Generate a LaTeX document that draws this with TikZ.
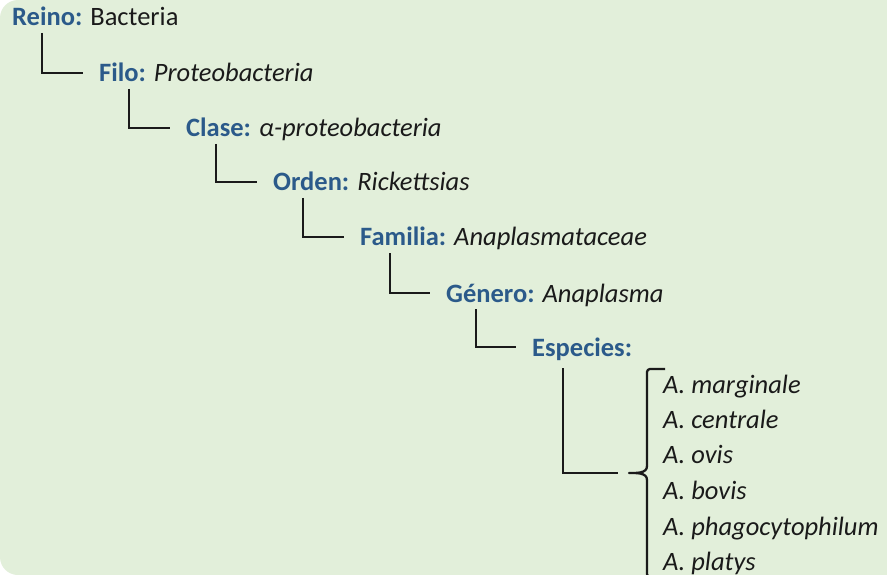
\documentclass[tikz,border=0pt]{standalone}
\usepackage{fontspec}
\setmainfont{Carlito}
\definecolor{bggreen}{HTML}{E2EFDA}
\definecolor{lblue}{HTML}{2B5A8A}
\definecolor{txt}{HTML}{1A1A1A}
\begin{document}
\begin{tikzpicture}[x=1pt,y=-1pt,
  lab/.style={anchor=base west,inner sep=0pt,font=\fontsize{26.5}{30}\selectfont,text=txt},
  sp/.style={anchor=base west,inner sep=0pt,font=\fontsize{26.5}{30}\selectfont\itshape,text=txt},
  conn/.style={draw=txt,line width=2.3pt}]
\useasboundingbox (0,0) rectangle (887,575);
\fill[white] (0,0) rectangle (887,575);
\begin{scope}
\clip (0,0) rectangle (887,575);
\fill[bggreen,rounded corners=18pt] (0,0) rectangle (940,575);
\end{scope}
\node[lab] (reino) at (12,26) {{\color{lblue}\bfseries Reino:} Bacteria};
\node[lab] (filo) at (99,82) {{\color{lblue}\bfseries Filo:} \textit{Proteobacteria}};
\node[lab] (clase) at (186,137) {{\color{lblue}\bfseries Clase:} \textit{α-proteobacteria}};
\node[lab] (orden) at (273,191) {{\color{lblue}\bfseries Orden:} \textit{Rickettsias}};
\node[lab] (familia) at (360,246) {{\color{lblue}\bfseries Familia:} \textit{Anaplasmataceae}};
\node[lab] (genero) at (446,302) {{\color{lblue}\bfseries Género:} \textit{Anaplasma}};
\node[lab] (especies) at (532,356) {{\color{lblue}\bfseries Especies:}};
\foreach \p/\c in {reino/filo,filo/clase,clase/orden,orden/familia,familia/genero,genero/especies}{
  \draw[conn] ([xshift=30pt,yshift=-7pt]\p.base west) |- ([xshift=-16pt,yshift=9pt]\c.base west);
}
\node[sp] (s1) at (663,393) {A. marginale};
\node[sp] (s2) at (663,428) {A. centrale};
\node[sp] (s3) at (663,463) {A. ovis};
\node[sp] (s4) at (663,499) {A. bovis};
\node[sp] (s5) at (663,535) {A. phagocytophilum};
\node[sp] (s6) at (663,570) {A. platys};
\coordinate (tip) at (629,473);
\draw[conn] ([xshift=31pt,yshift=-12pt]especies.base west) |- ([xshift=-11pt]tip);
\begin{scope}
\clip (0,0) rectangle (887,575);
\draw[conn,line join=round] (665,369) -- (650,369) to[out=180,in=90] (647,372) -- (647,466) to[out=-90,in=0] (tip) to[out=0,in=90] (647,480) -- (647,574) to[out=-90,in=180] (650,577) -- (665,577);
\end{scope}
\end{tikzpicture}
\end{document}
